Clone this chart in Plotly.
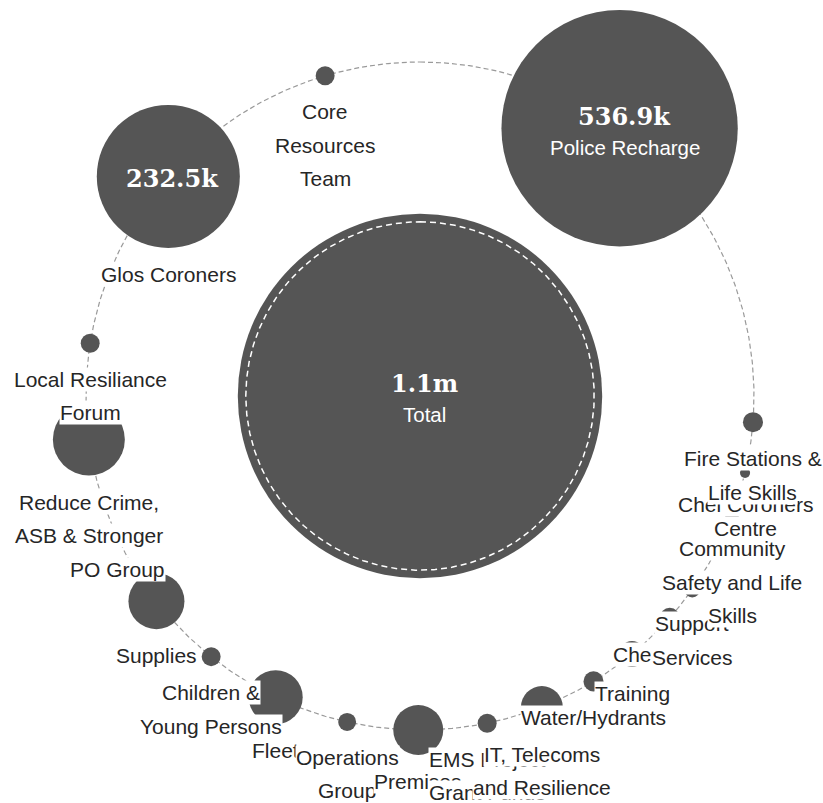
import numpy as np
import plotly.graph_objects as go

# ---------------- data (values in £k), in drawing order (anticlockwise from the top) ----------------
names = ["Core Resources Team", "Glos Coroners", "Local Resiliance Forum",
         "Reduce Crime, ASB & Stronger", "PO Group", "Supplies",
         "Children & Young Persons", "Fleet", "Operations Group", "Premises",
         "EMS Project Grant Funds", "IT, Telecoms and Resilience", "Water/Hydrants",
         "Training", "Chel Station", "Support Services",
         "Community Safety and Life Skills", "Chel Coroners Centre",
         "Fire Stations & Life Skills", "Police Recharge"]
label_lines = [["Core", "Resources", "Team"], ["Glos Coroners"], ["Local Resiliance", "Forum"],
               ["Reduce Crime,", "ASB & Stronger"], ["PO Group"], ["Supplies"],
               ["Children &", "Young Persons"], ["Fleet"], ["Operations", "Group"], ["Premises"],
               ["EMS Project", "Grant Funds"], ["IT, Telecoms", "and Resilience"], ["Water/Hydrants"],
               ["Training"], ["Chel Station"], ["Support", "Services"],
               ["Community", "Safety and Life", "Skills"], ["Chel Coroners", "Centre"],
               ["Fire Stations &", "Life Skills"], ["Police Recharge"]]
values = [8.0, 232.5, 8.0, 74.0, 3.7, 48.7, 8.0, 45.9, 7.3, 40.3,
          8.0, 30.0, 8.8, 13.6, 8.8, 6.0, 4.8, 2.8, 8.8, 536.9]
total_label = "Total"

# ---------------- layout parameters ----------------
ring_angle_deg = [343.5, 311.1, 279.1, 262.5, 245.0, 232.1, 218.7, 205.6, 192.6, 180.3,
                  168.4, 158.6, 148.7, 140.6, 131.6, 125.4, 110.9, 103.3, 94.5, 36.7]
line_gap = {"Chel Coroners Centre": 24}   # default 33.5 px between label lines
RING_R = 334
W, H = 823, 803
CX, CY = 420, 396            # ring centre in figure pixels
K, P = 2.72, 0.6             # radius scale: r = K * v**P
FILL = "#555555"
TXT = "#262626"
SANS = "Liberation Sans, Arial, Helvetica, sans-serif"
SERIF = "DejaVu Serif, Georgia, serif"

def radius(v):
    return K * v ** P

def fmt(v):
    return f"{v/1000:.1f}m" if v >= 1000 else f"{v:.1f}k"

vals = np.array(values)
total = vals.sum()
r_total = radius(total)
th = np.radians(ring_angle_deg)
bx = RING_R * np.sin(th)
by = RING_R * np.cos(th)
br = radius(vals)

fig = go.Figure()

# dashed ring
t = np.linspace(0, 2 * np.pi, 721)
fig.add_trace(go.Scatter(x=RING_R * np.sin(t), y=RING_R * np.cos(t), mode="lines",
                         line=dict(color="#9a9a9a", width=1.2, dash="5px,3px"),
                         hoverinfo="skip", showlegend=False))
# central total circle
fig.add_trace(go.Scatter(x=[0], y=[0], mode="markers",
                         marker=dict(size=2 * r_total, color=FILL, opacity=1, line=dict(width=0)),
                         hoverinfo="skip", showlegend=False))
fig.add_trace(go.Scatter(x=(r_total - 8) * np.sin(t), y=(r_total - 8) * np.cos(t), mode="lines",
                         line=dict(color="white", width=1.5, dash="6px,4px"),
                         hoverinfo="skip", showlegend=False))
# bubbles on the ring
fig.add_trace(go.Scatter(x=bx, y=by, mode="markers",
                         marker=dict(size=2 * br, color=FILL, opacity=1, line=dict(width=0)),
                         hoverinfo="skip", showlegend=False))

ann = []
# outside labels (white background, drawn in data order)
for i, lines in enumerate(label_lines):
    if br[i] > 100:
        continue
    gap = line_gap.get(names[i], 33.5)
    for j, line in enumerate(lines):
        ann.append(dict(x=bx[i], y=by[i] - br[i] - 26.5 - gap * j, xref="x", yref="y",
                        text=line.replace("&", "&amp;"), showarrow=False,
                        xanchor="center", yanchor="middle",
                        font=dict(family=SANS, size=21, color=TXT),
                        bgcolor="white", borderpad=0))
# values inside the large bubbles
for i in range(len(vals)):
    if br[i] > 100:
        ann.append(dict(x=bx[i] + 5, y=by[i] + 12, xref="x", yref="y", text="<b>" + fmt(vals[i]) + "</b>",
                        showarrow=False, font=dict(family=SERIF, size=24, color="white")))
        ann.append(dict(x=bx[i] + 5, y=by[i] - 19, xref="x", yref="y", text=label_lines[i][0],
                        showarrow=False, font=dict(family=SANS, size=20.5, color="white")))
    elif br[i] > 50:
        ann.append(dict(x=bx[i] + 4, y=by[i] - 2, xref="x", yref="y", text="<b>" + fmt(vals[i]) + "</b>",
                        showarrow=False, font=dict(family=SERIF, size=24, color="white")))
ann.append(dict(x=4, y=13, xref="x", yref="y", text="<b>" + fmt(total) + "</b>", showarrow=False,
                font=dict(family=SERIF, size=24, color="white")))
ann.append(dict(x=4, y=-18, xref="x", yref="y", text=total_label, showarrow=False,
                font=dict(family=SANS, size=20.5, color="white")))

fig.update_layout(
    width=W, height=H, margin=dict(l=0, r=0, t=0, b=0),
    paper_bgcolor="white", plot_bgcolor="white",
    xaxis=dict(range=[-CX, W - CX], visible=False, fixedrange=True),
    yaxis=dict(range=[CY - H, CY], visible=False, fixedrange=True),
    annotations=ann, hovermode=False, showlegend=False,
)
fig.write_html("out.html", config={"displayModeBar": False, "staticPlot": True},
               post_script="document.body.style.margin='0px';document.body.style.overflow='hidden';")
